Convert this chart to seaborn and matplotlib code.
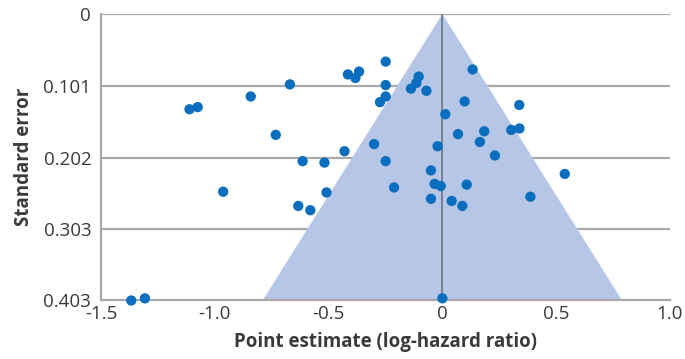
import numpy as np
import matplotlib
matplotlib.use("Agg")
import matplotlib.pyplot as plt
import seaborn as sns
import pandas as pd

# Point estimates (log-hazard ratio) and standard errors
log_hr = [-1.111, -1.075, -0.842, -0.670, -0.732, -0.415, -0.382, -0.366,
          -0.249, -0.249, -0.249, -0.274, -0.300, -0.430, -0.614, -0.518,
          -0.249, -0.104, -0.114, -0.138, -0.070, 0.133, 0.098, 0.013,
          0.338, 0.069, 0.184, 0.165, 0.303, 0.339, -0.021, 0.231,
          -0.050, 0.538, -0.963, -0.509, -0.633, -0.580, -1.367, -1.307,
          -0.212, -0.034, -0.007, 0.107, -0.050, 0.041, 0.088, 0.387, 0.000]
std_err = [0.134, 0.131, 0.116, 0.099, 0.170, 0.085, 0.090, 0.081,
           0.067, 0.100, 0.116, 0.124, 0.183, 0.193, 0.207, 0.209,
           0.207, 0.088, 0.097, 0.105, 0.108, 0.078, 0.123, 0.141,
           0.128, 0.169, 0.165, 0.180, 0.163, 0.161, 0.186, 0.199,
           0.220, 0.225, 0.250, 0.251, 0.270, 0.276, 0.403, 0.400,
           0.244, 0.239, 0.242, 0.240, 0.260, 0.263, 0.270, 0.257, 0.400]

y_ticks = [0, 0.101, 0.202, 0.303, 0.403]
y_ticklabels = ["0", "0.101", "0.202", "0.303", "0.403"]
x_ticks = [-1.5, -1.0, -0.5, 0, 0.5, 1.0]
x_ticklabels = ["-1.5", "-1.0", "-0.5", "0", "0.5", "1.0"]

se_max = 0.403
pooled = 0.0

df = pd.DataFrame({"est": log_hr, "se": std_err})

sns.set_style("white")
plt.rcParams["font.family"] = ["Open Sans", "DejaVu Sans"]

fig, ax = plt.subplots(figsize=(6.85, 3.59), dpi=100)
fig.subplots_adjust(left=0.1474, right=0.978, top=0.961, bottom=0.163)

# pseudo 95% confidence funnel
ax.fill([pooled - 1.96 * se_max, pooled, pooled + 1.96 * se_max],
        [se_max, 0, se_max], color="#b6c6e7", lw=0, zorder=1)

for yt in y_ticks[:-1]:
    ax.axhline(yt, color="#a9a9a9", lw=1.6, zorder=0)
ax.axvline(pooled, color="#717c8a", lw=1.3, zorder=2)

sns.scatterplot(data=df, x="est", y="se", ax=ax, color="#0a6dbd",
                s=55, edgecolor="none", zorder=3, clip_on=False)

ax.set_xlim(-1.5, 1.0)
ax.set_ylim(se_max, 0)
ax.set_xticks(x_ticks)
ax.set_xticklabels(x_ticklabels)
ax.set_yticks(y_ticks)
ax.set_yticklabels(y_ticklabels)

for side in ["top", "right"]:
    ax.spines[side].set_visible(False)
for side in ["left", "bottom"]:
    ax.spines[side].set_color("#a9a9a9")
    ax.spines[side].set_linewidth(1.6)

ax.tick_params(axis="x", direction="in", length=6, width=1.6, color="#a9a9a9",
               labelsize=13.5, labelcolor="#3a3a3a", pad=3)
ax.tick_params(axis="y", length=0, labelsize=13.5, labelcolor="#3a3a3a", pad=7)

ax.set_xlabel("Point estimate (log-hazard ratio)", fontsize=13.5, fontweight="bold",
              color="#3a3a3a", labelpad=7)
ax.set_ylabel("Standard error", fontsize=13.5, fontweight="bold",
              color="#3a3a3a", labelpad=7)

fig.savefig("out.png", dpi=100)
